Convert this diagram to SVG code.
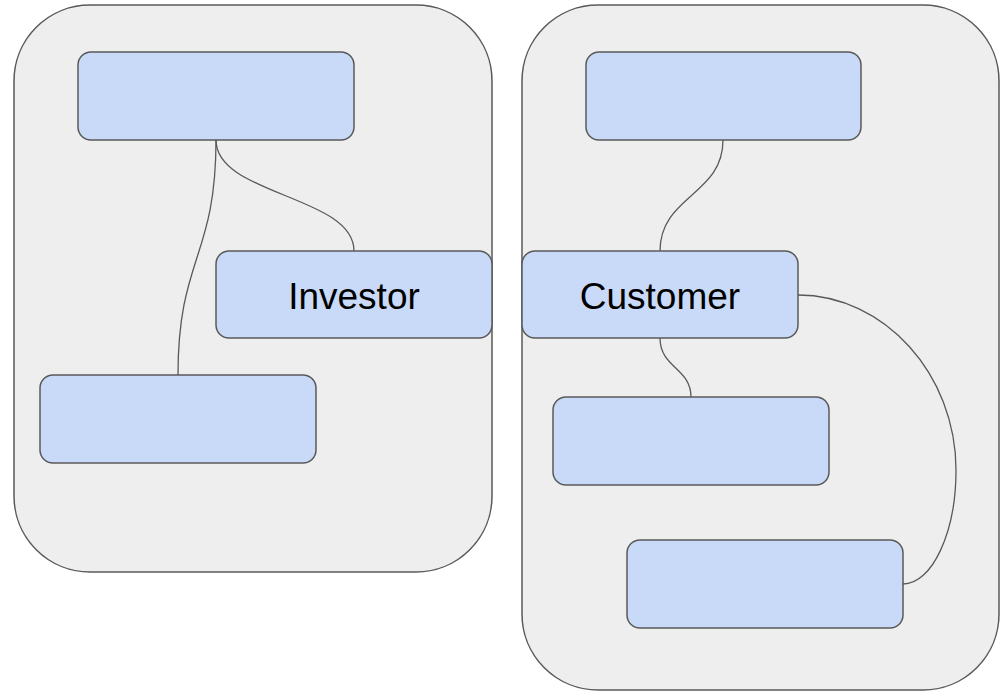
<svg xmlns="http://www.w3.org/2000/svg" width="1002" height="691" viewBox="0 0 1002 691">
  <style>
    .group { fill: #eeeeee; stroke: #595959; stroke-width: 1.5; }
    .node { fill: #c9daf8; stroke: #595959; stroke-width: 1.5; }
    .edge { fill: none; stroke: #595959; stroke-width: 1.3; }
    .label { font-family: "Liberation Sans", Arial, sans-serif; font-size: 37px; fill: #000000; text-anchor: middle; }
  </style>
  <rect width="1002" height="691" fill="#ffffff"/>

  <!-- containers -->
  <g id="group-left">
    <rect class="group" x="14" y="5" width="478" height="567" rx="76" ry="76"/>
  </g>
  <g id="group-right">
    <rect class="group" x="522" y="5" width="477" height="685" rx="76" ry="76"/>
  </g>

  <!-- connectors -->
  <g id="connectors">
    <path class="edge" d="M216,140 C216,257.5 178,257.5 178,375"/>
    <path class="edge" d="M216,140 C216,195.5 354,195.5 354,251"/>
    <path class="edge" d="M723,140 C723,195.5 660,195.5 660,251"/>
    <path class="edge" d="M660,338 C660,368 691,368 691,397"/>
    <path class="edge" d="M798,295 C884,295 956,374 956,470 C956,533 932,584 903,584"/>
  </g>

  <!-- left side nodes -->
  <g id="node-left-top">
    <rect class="node" x="78" y="52" width="276" height="88" rx="13" ry="13"/>
  </g>
  <g id="node-investor">
    <rect class="node" x="216" y="251" width="276" height="87" rx="13" ry="13"/>
    <text class="label" x="354" y="309">Investor</text>
  </g>
  <g id="node-left-bottom">
    <rect class="node" x="40" y="375" width="276" height="88" rx="13" ry="13"/>
  </g>

  <!-- right side nodes -->
  <g id="node-right-top">
    <rect class="node" x="586" y="52" width="275" height="88" rx="13" ry="13"/>
  </g>
  <g id="node-customer">
    <rect class="node" x="522" y="251" width="276" height="87" rx="13" ry="13"/>
    <text class="label" x="660" y="309">Customer</text>
  </g>
  <g id="node-right-middle">
    <rect class="node" x="553" y="397" width="276" height="88" rx="13" ry="13"/>
  </g>
  <g id="node-right-bottom">
    <rect class="node" x="627" y="540" width="276" height="88" rx="13" ry="13"/>
  </g>
</svg>
